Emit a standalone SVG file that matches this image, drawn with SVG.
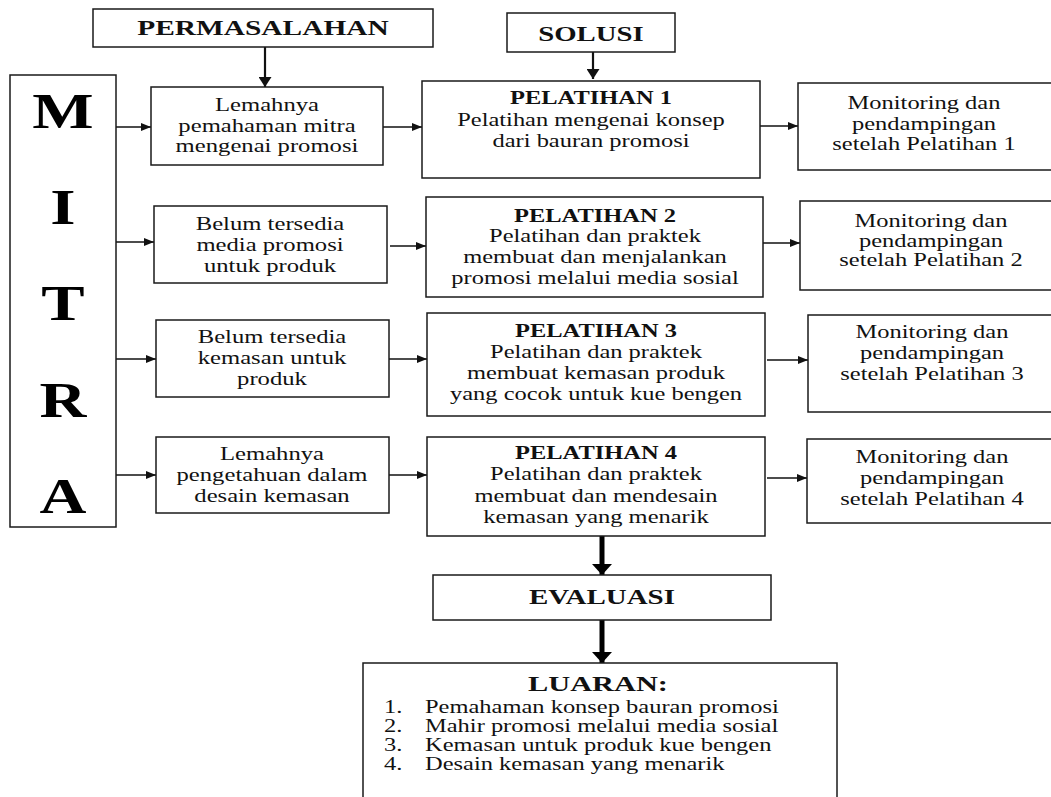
<svg xmlns="http://www.w3.org/2000/svg" width="1051" height="797" viewBox="0 0 1051 797">
<style>
.box{fill:#fff;stroke:#1a1a1a;stroke-width:1.5}
.t{font-family:"Liberation Serif","Times New Roman",serif;font-size:18px;fill:#111;text-anchor:middle}
.h{font-family:"Liberation Serif","Times New Roman",serif;font-size:21px;font-weight:bold;fill:#111;text-anchor:middle}
.b{font-weight:bold}
.big{font-family:"Liberation Serif","Times New Roman",serif;font-size:50px;font-weight:bold;fill:#000;text-anchor:middle}
.l{font-family:"Liberation Serif","Times New Roman",serif;font-size:18px;fill:#111;text-anchor:start}
.c{stroke:#111;stroke-width:1.6;fill:none}
.ck{stroke:#111;stroke-width:2.2;fill:none}
.cx{stroke:#000;stroke-width:5;fill:none}
</style>
<defs>
<marker id="a" viewBox="0 0 10 8" refX="10" refY="4" markerWidth="10" markerHeight="8" markerUnits="userSpaceOnUse" orient="auto"><path d="M0,0 L10,4 L0,8 z" fill="#111"/></marker>
<marker id="ak" viewBox="0 0 10 13" refX="10" refY="6.5" markerWidth="10" markerHeight="13" markerUnits="userSpaceOnUse" orient="auto"><path d="M0,0 L10,6.5 L0,13 z" fill="#111"/></marker>
<marker id="ax" viewBox="0 0 11 20" refX="11" refY="10" markerWidth="11" markerHeight="20" markerUnits="userSpaceOnUse" orient="auto"><path d="M0,0 L11,10 L0,20 z" fill="#000"/></marker>
</defs>
<rect width="1051" height="797" fill="#fff"/>

<g id="connectors">
<line class="ck" x1="265" y1="47" x2="265" y2="87" marker-end="url(#ak)"/>
<line class="ck" x1="593" y1="52" x2="593" y2="79" marker-end="url(#ak)"/>
<line class="c" x1="116" y1="127" x2="151" y2="127" marker-end="url(#a)"/>
<line class="c" x1="383" y1="127" x2="422" y2="127" marker-end="url(#a)"/>
<line class="c" x1="760" y1="126" x2="798" y2="126" marker-end="url(#a)"/>
<line class="c" x1="116" y1="242" x2="154" y2="242" marker-end="url(#a)"/>
<line class="c" x1="390" y1="246" x2="426" y2="246" marker-end="url(#a)"/>
<line class="c" x1="763" y1="243" x2="800" y2="243" marker-end="url(#a)"/>
<line class="c" x1="116" y1="359" x2="156" y2="359" marker-end="url(#a)"/>
<line class="c" x1="389" y1="359" x2="427" y2="359" marker-end="url(#a)"/>
<line class="c" x1="767" y1="360" x2="808" y2="360" marker-end="url(#a)"/>
<line class="c" x1="116" y1="475" x2="156" y2="475" marker-end="url(#a)"/>
<line class="c" x1="389" y1="475" x2="427" y2="475" marker-end="url(#a)"/>
<line class="c" x1="767" y1="478" x2="807" y2="478" marker-end="url(#a)"/>
<line class="cx" x1="602" y1="536" x2="602" y2="575" marker-end="url(#ax)"/>
<line class="cx" x1="602" y1="620" x2="602" y2="663" marker-end="url(#ax)"/>
</g>

<g id="permasalahan">
<rect class="box" x="93" y="9" width="340" height="38"/>
<text class="h" transform="translate(263,35) scale(1.4,1)">PERMASALAHAN</text>
</g>

<g id="solusi">
<rect class="box" x="507" y="13" width="168" height="39"/>
<text class="h" transform="translate(591,41) scale(1.37,1)">SOLUSI</text>
</g>

<g id="mitra">
<rect class="box" x="10" y="75" width="106" height="452"/>
<text class="big" transform="translate(63,128) scale(1.3,1)">M</text>
<text class="big" transform="translate(63,224) scale(1.3,1)">I</text>
<text class="big" transform="translate(63,320) scale(1.3,1)">T</text>
<text class="big" transform="translate(63,417) scale(1.3,1)">R</text>
<text class="big" transform="translate(63,513) scale(1.3,1)">A</text>
</g>

<g id="masalah1">
<rect class="box" x="151" y="87" width="232" height="78"/>
<text class="t" transform="translate(267,0) scale(1.37,1)"><tspan x="0" y="111">Lemahnya</tspan><tspan x="0" y="132">pemahaman mitra</tspan><tspan x="0" y="152">mengenai promosi</tspan></text>
</g>

<g id="masalah2">
<rect class="box" x="154" y="206" width="233" height="77"/>
<text class="t" transform="translate(270,0) scale(1.37,1)"><tspan x="0" y="230">Belum tersedia</tspan><tspan x="0" y="251">media promosi</tspan><tspan x="0" y="272">untuk produk</tspan></text>
</g>

<g id="masalah3">
<rect class="box" x="156" y="320" width="233" height="77"/>
<text class="t" transform="translate(272,0) scale(1.37,1)"><tspan x="0" y="343">Belum tersedia</tspan><tspan x="0" y="364">kemasan untuk</tspan><tspan x="0" y="385">produk</tspan></text>
</g>

<g id="masalah4">
<rect class="box" x="156" y="437" width="233" height="76"/>
<text class="t" transform="translate(272,0) scale(1.37,1)"><tspan x="0" y="460">Lemahnya</tspan><tspan x="0" y="481">pengetahuan dalam</tspan><tspan x="0" y="502">desain kemasan</tspan></text>
</g>

<g id="pelatihan1">
<rect class="box" x="422" y="81" width="338" height="97"/>
<text class="t" transform="translate(591,0) scale(1.36,1)"><tspan x="0" y="104" class="b">PELATIHAN 1</tspan><tspan x="0" y="126">Pelatihan mengenai konsep</tspan><tspan x="0" y="147">dari bauran promosi</tspan></text>
</g>

<g id="pelatihan2">
<rect class="box" x="426" y="197" width="337" height="100"/>
<text class="t" transform="translate(595,0) scale(1.36,1)"><tspan x="0" y="222" class="b">PELATIHAN 2</tspan><tspan x="0" y="242">Pelatihan dan praktek</tspan><tspan x="0" y="263">membuat dan menjalankan</tspan><tspan x="0" y="284">promosi  melalui media sosial</tspan></text>
</g>

<g id="pelatihan3">
<rect class="box" x="427" y="313" width="338" height="103"/>
<text class="t" transform="translate(596,0) scale(1.36,1)"><tspan x="0" y="337" class="b">PELATIHAN 3</tspan><tspan x="0" y="358">Pelatihan dan praktek</tspan><tspan x="0" y="379">membuat kemasan produk</tspan><tspan x="0" y="400">yang cocok untuk kue bengen</tspan></text>
</g>

<g id="pelatihan4">
<rect class="box" x="427" y="437" width="338" height="99"/>
<text class="t" transform="translate(596,0) scale(1.36,1)"><tspan x="0" y="459" class="b">PELATIHAN 4</tspan><tspan x="0" y="480">Pelatihan dan praktek</tspan><tspan x="0" y="502">membuat dan mendesain</tspan><tspan x="0" y="523">kemasan yang menarik</tspan></text>
</g>

<g id="monitoring1">
<rect class="box" x="798" y="83" width="270" height="87"/>
<text class="t" transform="translate(924,0) scale(1.36,1)"><tspan x="0" y="109">Monitoring dan</tspan><tspan x="0" y="130">pendampingan</tspan><tspan x="0" y="150">setelah Pelatihan 1</tspan></text>
</g>

<g id="monitoring2">
<rect class="box" x="800" y="201" width="270" height="89"/>
<text class="t" transform="translate(931,0) scale(1.36,1)"><tspan x="0" y="227">Monitoring dan</tspan><tspan x="0" y="247">pendampingan</tspan><tspan x="0" y="266">setelah Pelatihan 2</tspan></text>
</g>

<g id="monitoring3">
<rect class="box" x="808" y="315" width="270" height="97"/>
<text class="t" transform="translate(932,0) scale(1.36,1)"><tspan x="0" y="338">Monitoring dan</tspan><tspan x="0" y="359">pendampingan</tspan><tspan x="0" y="380">setelah Pelatihan 3</tspan></text>
</g>

<g id="monitoring4">
<rect class="box" x="807" y="439" width="270" height="84"/>
<text class="t" transform="translate(932,0) scale(1.36,1)"><tspan x="0" y="463">Monitoring dan</tspan><tspan x="0" y="484">pendampingan</tspan><tspan x="0" y="505">setelah Pelatihan 4</tspan></text>
</g>

<g id="evaluasi">
<rect class="box" x="433" y="575" width="338" height="45"/>
<text class="h" transform="translate(602,604) scale(1.38,1)">EVALUASI</text>
</g>

<g id="luaran">
<rect class="box" x="363" y="663" width="474" height="160"/>
<text class="h" transform="translate(598,691) scale(1.38,1)" style="font-size:22px">LUARAN:</text>
<text class="l" transform="translate(384,713) scale(1.36,1)">1.</text>
<text class="l" transform="translate(425,713) scale(1.36,1)">Pemahaman konsep bauran promosi</text>
<text class="l" transform="translate(384,732) scale(1.36,1)">2.</text>
<text class="l" transform="translate(425,732) scale(1.36,1)">Mahir promosi melalui media sosial</text>
<text class="l" transform="translate(384,751) scale(1.36,1)">3.</text>
<text class="l" transform="translate(425,751) scale(1.36,1)">Kemasan untuk produk kue bengen</text>
<text class="l" transform="translate(384,770) scale(1.36,1)">4.</text>
<text class="l" transform="translate(425,770) scale(1.36,1)">Desain kemasan yang menarik</text>
</g>
</svg>
